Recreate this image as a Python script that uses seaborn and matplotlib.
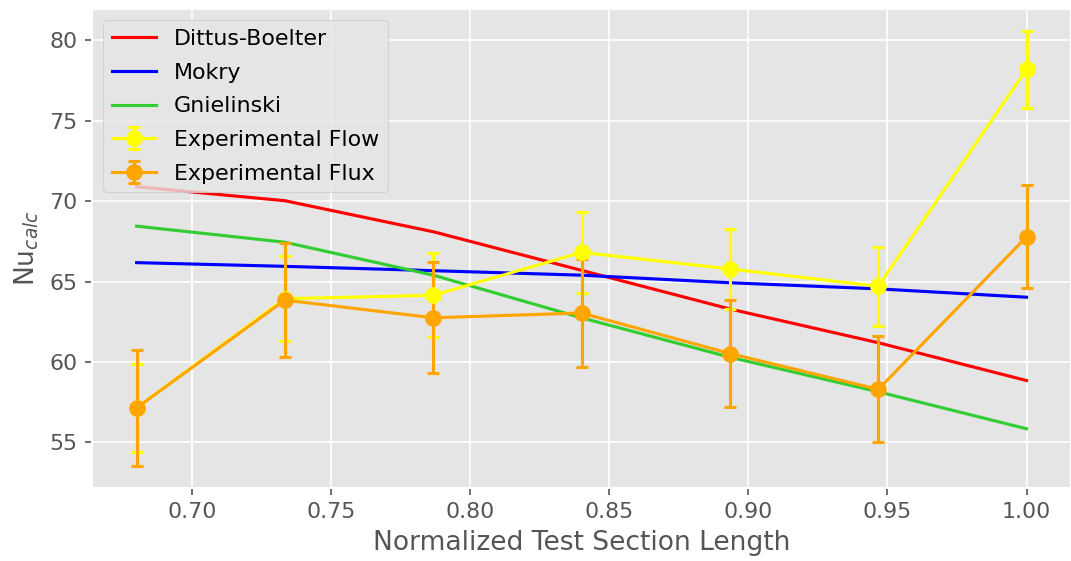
import matplotlib
matplotlib.use("Agg")
import matplotlib.pyplot as plt
import seaborn as sns
import numpy as np
import pandas as pd

plt.style.use("ggplot")
plt.rcParams["font.size"] = 10.6

x_pos = [0.68, 0.7333, 0.7867, 0.84, 0.8933, 0.9467, 1.0]

dittus = [70.9, 70.03, 68.1, 65.7, 63.3, 61.2, 58.85]
mokry = [66.18, 65.95, 65.68, 65.4, 64.93, 64.55, 64.03]
gnielinski = [68.45, 67.45, 65.4, 62.75, 60.3, 58.15, 55.85]

flow = [57.15, 63.94, 64.15, 66.82, 65.79, 64.71, 78.2]
flow_err = [2.75, 2.65, 2.6, 2.5, 2.5, 2.45, 2.4]
flux = [57.15, 63.85, 62.75, 63.05, 60.53, 58.3, 67.78]
flux_err = [3.6, 3.55, 3.45, 3.35, 3.3, 3.3, 3.2]

fig, ax = plt.subplots(figsize=(7.14, 3.74), dpi=150)
fig.subplots_adjust(left=0.086, right=1.0, top=0.984, bottom=0.131)

df = pd.DataFrame({"x": x_pos, "Dittus-Boelter": dittus, "Mokry": mokry,
                   "Gnielinski": gnielinski})
for name, col in [("Dittus-Boelter", "red"), ("Mokry", "blue"), ("Gnielinski", "limegreen")]:
    sns.lineplot(data=df, x="x", y=name, color=col, label=name, ax=ax, linewidth=1.5)

ax.errorbar(x_pos, flow, yerr=flow_err, color="yellow", marker="o", markersize=7,
            capsize=3, linewidth=1.5, capthick=1.5, label="Experimental Flow")
ax.errorbar(x_pos, flux, yerr=flux_err, color="orange", marker="o", markersize=7,
            capsize=3, linewidth=1.5, capthick=1.5, label="Experimental Flux")

ax.set_xlabel("Normalized Test Section Length")
ax.set_ylabel("Nu$_{calc}$")
ax.legend(loc="upper left", fontsize=10.6, labelspacing=0.62)

fig.savefig("out.png", dpi=150)
